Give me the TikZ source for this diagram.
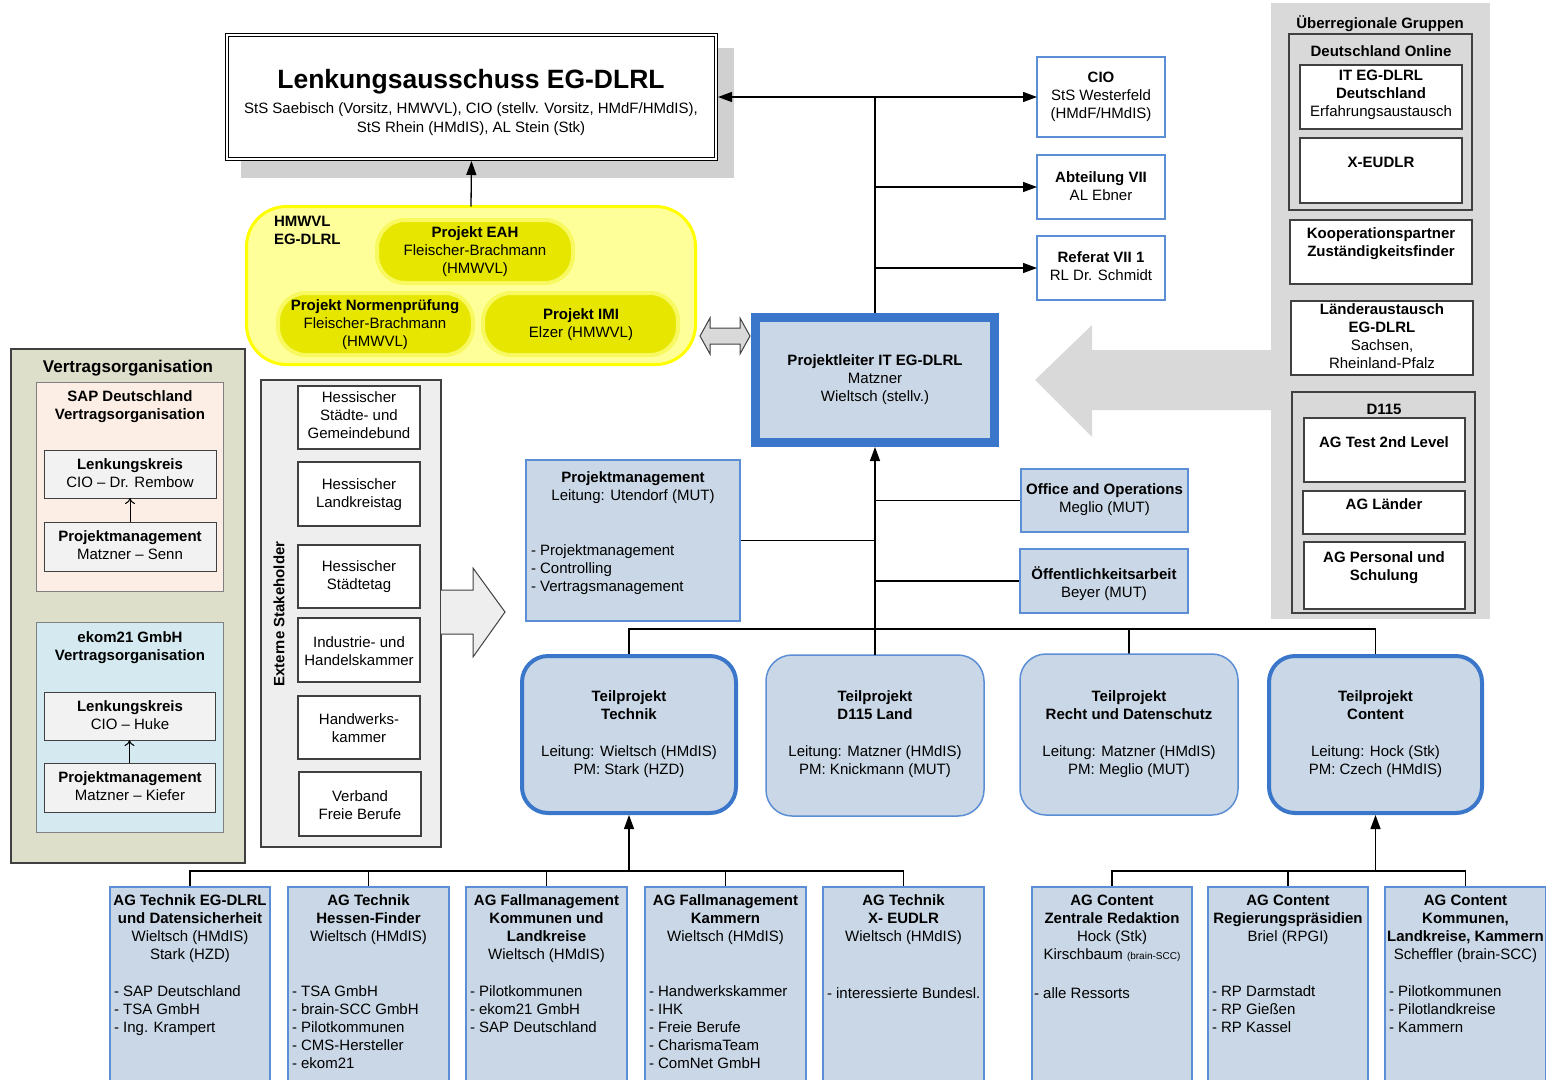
\documentclass[tikz,border=0pt]{standalone}
\usepackage{fontspec}
\setmainfont{Liberation Sans}
\usetikzlibrary{arrows.meta,fit}
\pgfdeclarelayer{bg}
\pgfsetlayers{bg,main}
\newcommand\fsn{\fontsize{15}{18}\selectfont}
\definecolor{bfill}{HTML}{C9D7E6}
\definecolor{bline}{HTML}{5B8ED4}
\definecolor{bthick}{HTML}{3A76C9}
\definecolor{ylbg}{HTML}{FFFF99}
\definecolor{ylline}{HTML}{FFFF00}
\definecolor{ylin}{HTML}{E6E600}
\definecolor{ylring}{HTML}{F8F860}
\definecolor{grp}{HTML}{D9D9D9}
\definecolor{dgray}{HTML}{404040}
\definecolor{vbg}{HTML}{DDDFCA}
\definecolor{sapbg}{HTML}{FDEEE5}
\definecolor{ekbg}{HTML}{D4EAF0}
\definecolor{inbg}{HTML}{F2F2F2}
\definecolor{exbg}{HTML}{EEEEEE}
\definecolor{shad}{HTML}{D0D0D0}
\begin{document}
\begin{tikzpicture}[x=1pt,y=-1pt,
  every node/.style={inner sep=0pt,outer sep=0pt},
  tx/.style={font=\fsn,align=center,anchor=north,yshift=11pt,execute at begin node=\strut},
  txl/.style={font=\fsn,align=left,anchor=north west,yshift=11pt,execute at begin node=\strut},
  single/.style={align=center,anchor=base},
  bluebox/.style={rectangle,draw=bline,line width=1.5pt,fill=bfill},
  whitebox/.style={rectangle,draw=bline,line width=1.5pt,fill=white},
  graybox/.style={rectangle,draw=dgray,line width=1.2pt,fill=white},
  innerbox/.style={rectangle,draw=dgray,line width=1pt,fill=inbg},
  tpthick/.style={rectangle,rounded corners=26pt,fill=bfill,draw=bthick,line width=4pt},
  tpthin/.style={rectangle,rounded corners=26pt,fill=bfill,draw=bline,line width=1.5pt},
  yin/.style={rectangle,rounded corners=28pt,fill=ylin,draw=ylring,line width=4pt},
  cn/.style={draw=black,line width=1.3pt},
  arr/.style={cn,-{Triangle[length=14pt,width=10pt]}},
  thinarr/.style={draw=black,line width=1pt,-{To[length=6pt,width=10pt]}}
]
\useasboundingbox (0,0) rectangle (1546,1079);

% ---------- Lenkungsausschuss ----------
\node[fill=shad,fit={(241,48)(734,178)}] (lashadow) {};
\node[rectangle,fill=white,draw=black,line width=1pt,double=white,double distance=2.2pt,fit={(227,35)(716,159)}] (la) {};
\node[single,font=\fontsize{26.5}{30}\selectfont\bfseries] (latitle) at (471,88) {Lenkungsausschuss EG-DLRL};
\node[tx] (lasub) at (471,114) {StS Saebisch (Vorsitz, HMWVL), CIO (stellv. Vorsitz, HMdF/HMdIS),\\[1pt]StS Rhein (HMdIS), AL Stein (Stk)};

% ---------- CIO column ----------
\node[whitebox,fit={(1037,57)(1165,137)}] (cio) {};
\node[tx] (ciot) at (1101,83) {\textbf{CIO}\\StS Westerfeld\\(HMdF/HMdIS)};
\node[whitebox,fit={(1037,155)(1165,219)}] (abt) {};
\node[tx] (abtt) at (1101,183) {\textbf{Abteilung VII}\\AL Ebner};
\node[whitebox,fit={(1037,236)(1165,300)}] (ref) {};
\node[tx] (reft) at (1101,263) {\textbf{Referat VII 1}\\RL Dr. Schmidt};

% ---------- Ueberregionale Gruppen ----------
\node[fill=grp,fit={(1271,3)(1490,619)}] (ueb) {};
\node[tx,font=\fsn\bfseries] (uebt) at (1380,27) {Überregionale Gruppen};
\node[graybox,fill=grp,fit={(1289,34)(1472,210)}] (dol) {};
\node[tx,font=\fsn\bfseries] (dolt) at (1381,55) {Deutschland Online};
\node[graybox,fit={(1300,65)(1462,129)}] (itd) {};
\node[tx] (itdt) at (1381,81) {\textbf{IT EG-DLRL}\\\textbf{Deutschland}\\Erfahrungsaustausch};
\node[graybox,fit={(1300,138)(1462,203)}] (xeu) {};
\node[tx,font=\fsn\bfseries] (xeut) at (1381,166) {X-EUDLR};
\node[graybox,fit={(1290,220)(1472,284)}] (koop) {};
\node[tx,font=\fsn\bfseries] (koopt) at (1381,239) {Kooperationspartner\\Zuständigkeitsfinder};
\node[graybox,fit={(1291,301)(1473,375)}] (laend) {};
\node[tx] (laendt) at (1382,315) {\textbf{Länderaustausch}\\\textbf{EG-DLRL}\\Sachsen,\\Rheinland-Pfalz};
\node[graybox,fill=grp,fit={(1292,392)(1475,613)}] (dd) {};
\node[tx,font=\fsn\bfseries] (ddt) at (1384,413) {D115};
\node[graybox,fit={(1304,418)(1465,482)}] (agtest) {};
\node[tx,font=\fsn\bfseries] (agtestt) at (1384,446) {AG Test 2nd Level};
\node[graybox,fit={(1303,491)(1465,534)}] (aglaender) {};
\node[tx,font=\fsn\bfseries] (aglaendert) at (1384,508) {AG Länder};
\node[graybox,fit={(1304,542)(1465,609)}] (agpers) {};
\node[tx,font=\fsn\bfseries] (agperst) at (1384,563) {AG Personal und\\Schulung};

% big grey arrow
\fill[grp] (1035,380) -- (1092,325) -- (1092,350) -- (1272,350) -- (1272,410) -- (1092,410) -- (1092,437) -- cycle;

% ---------- Yellow group ----------
\node[rectangle,draw=ylline,line width=3pt,fill=ylbg,rounded corners=40pt,fit={(246.5,206.5)(695.5,364.5)}] (yg) {};
\node[txl,font=\fsn\bfseries] (ygt) at (274,227) {HMWVL\\EG-DLRL};
\node[yin,fit={(377,220)(573,283)}] (eah) {};
\node[tx] (eaht) at (475,238) {\textbf{Projekt EAH}\\Fleischer-Brachmann\\(HMWVL)};
\node[yin,fit={(278,293)(473,355)}] (norm) {};
\node[tx] (normt) at (375,311) {\textbf{Projekt Normenprüfung}\\Fleischer-Brachmann\\(HMWVL)};
\node[yin,fit={(483,293)(678,355)}] (imi) {};
\node[tx] (imit) at (581,320) {\textbf{Projekt IMI}\\Elzer (HMWVL)};

% double block arrow
\filldraw[fill=grp,draw=dgray,line width=1pt] (700,336) -- (710,318) -- (710,328) -- (740,328) -- (740,318) -- (750,336) -- (740,354) -- (740,344) -- (710,344) -- (710,354) -- cycle;

% ---------- Projektleiter ----------
\node[rectangle,fill=bfill,draw=bthick,line width=9pt,fit={(755.5,317.5)(994.5,442.5)}] (pl) {};
\node[tx] (plt) at (875,366) {\textbf{Projektleiter IT EG-DLRL}\\Matzner\\Wieltsch (stellv.)};

\node[bluebox,fit={(526,460)(740,621)}] (pm) {};
\node[tx] (pmt) at (633,483) {\textbf{Projektmanagement}\\Leitung: Utendorf (MUT)};
\node[txl] (pml) at (531,556) {- Projektmanagement\\- Controlling\\- Vertragsmanagement};

\node[bluebox,fit={(1021,469)(1188,532)}] (oo) {};
\node[tx] (oot) at (1104.5,495) {\textbf{Office and Operations}\\Meglio (MUT)};
\node[bluebox,fit={(1020,549)(1188,613)}] (oe) {};
\node[tx] (oet) at (1104,578) {\textbf{Öffentlichkeitsarbeit}\\Beyer (MUT)};

% ---------- Teilprojekte ----------
\node[tpthick,fit={(522,656)(736,813)}] (tpT) {};
\node[tx] (tpTt) at (629,702) {\textbf{Teilprojekt}\\\textbf{Technik}\\[19pt]Leitung: Wieltsch (HMdIS)\\PM: Stark (HZD)};
\node[tpthin,fit={(766,655)(984,816)}] (tpD) {};
\node[tx] (tpDt) at (875,702) {\textbf{Teilprojekt}\\\textbf{D115 Land}\\[19pt]Leitung: Matzner (HMdIS)\\PM: Knickmann (MUT)};
\node[tpthin,fit={(1020,654)(1238,815)}] (tpR) {};
\node[tx] (tpRt) at (1129,702) {\textbf{Teilprojekt}\\\textbf{Recht und Datenschutz}\\[19pt]Leitung: Matzner (HMdIS)\\PM: Meglio (MUT)};
\node[tpthick,fit={(1269,656)(1482,813)}] (tpC) {};
\node[tx] (tpCt) at (1375.5,702) {\textbf{Teilprojekt}\\\textbf{Content}\\[19pt]Leitung: Hock (Stk)\\PM: Czech (HMdIS)};

% ---------- AG boxes ----------
\node[bluebox,fit={(110,887)(270,1083)}] (ag1) {};
\node[tx] (ag1t) at (190,906) {\textbf{AG Technik EG-DLRL}\\\textbf{und Datensicherheit}\\Wieltsch (HMdIS)\\Stark (HZD)};
\node[txl] (ag1l) at (114,997) {- SAP Deutschland\\- TSA GmbH\\- Ing. Krampert};
\node[bluebox,fit={(288,887)(449,1083)}] (ag2) {};
\node[tx] (ag2t) at (368.5,906) {\textbf{AG Technik}\\\textbf{Hessen-Finder}\\Wieltsch (HMdIS)};
\node[txl] (ag2l) at (292,997) {- TSA GmbH\\- brain-SCC GmbH\\- Pilotkommunen\\- CMS-Hersteller\\- ekom21};
\node[bluebox,fit={(466,887)(627,1083)}] (ag3) {};
\node[tx] (ag3t) at (546.5,906) {\textbf{AG Fallmanagement}\\\textbf{Kommunen und}\\\textbf{Landkreise}\\Wieltsch (HMdIS)};
\node[txl] (ag3l) at (470,997) {- Pilotkommunen\\- ekom21 GmbH\\- SAP Deutschland};
\node[bluebox,fit={(645,887)(806,1083)}] (ag4) {};
\node[tx] (ag4t) at (725.5,906) {\textbf{AG Fallmanagement}\\\textbf{Kammern}\\Wieltsch (HMdIS)};
\node[txl] (ag4l) at (649,997) {- Handwerkskammer\\- IHK\\- Freie Berufe\\- CharismaTeam\\- ComNet GmbH};
\node[bluebox,fit={(823,887)(984,1083)}] (ag5) {};
\node[tx] (ag5t) at (903.5,906) {\textbf{AG Technik}\\\textbf{X- EUDLR}\\Wieltsch (HMdIS)};
\node[txl] (ag5l) at (827,997) {- interessierte Bundesl.};
\node[bluebox,fit={(1032,887)(1192,1083)}] (ag6) {};
\node[tx] (ag6t) at (1112,906) {\textbf{AG Content}\\\textbf{Zentrale Redaktion}\\Hock (Stk)\\Kirschbaum {\fontsize{10}{12}\selectfont (brain-SCC)}};
\node[txl] (ag6l) at (1034,997) {- alle Ressorts};
\node[bluebox,fit={(1208,887)(1368,1083)}] (ag7) {};
\node[tx] (ag7t) at (1288,906) {\textbf{AG Content}\\\textbf{Regierungspräsidien}\\Briel (RPGI)};
\node[txl] (ag7l) at (1212,997) {- RP Darmstadt\\- RP Gießen\\- RP Kassel};
\node[bluebox,fit={(1385,887)(1546,1083)}] (ag8) {};
\node[tx] (ag8t) at (1465.5,906) {\textbf{AG Content}\\\textbf{Kommunen,}\\\textbf{Landkreise, Kammern}\\Scheffler (brain-SCC)};
\node[txl] (ag8l) at (1389,997) {- Pilotkommunen\\- Pilotlandkreise\\- Kammern};

% ---------- Vertragsorganisation ----------
\node[rectangle,draw=dgray,line width=1.2pt,fill=vbg,fit={(11,349)(245,863)}] (vo) {};
\node[single,font=\fontsize{17}{20}\selectfont\bfseries] (vot) at (128,372) {Vertragsorganisation};
\node[rectangle,draw=gray,line width=1pt,fill=sapbg,fit={(36,382)(223,591)}] (sap) {};
\node[tx,font=\fsn\bfseries] (sapt) at (130,402) {SAP Deutschland\\Vertragsorganisation};
\node[innerbox,fit={(44,450)(216,498)}] (saplk) {};
\node[tx] (saplkt) at (130,470) {\textbf{Lenkungskreis}\\CIO -- Dr. Rembow};
\node[innerbox,fit={(44,522)(216,571)}] (sappm) {};
\node[tx] (sappmt) at (130,542) {\textbf{Projektmanagement}\\Matzner -- Senn};
\node[rectangle,draw=gray,line width=1pt,fill=ekbg,fit={(36,622)(223,832)}] (ek) {};
\node[tx,font=\fsn\bfseries] (ekt) at (130,643) {ekom21 GmbH\\Vertragsorganisation};
\node[innerbox,fit={(44,692)(215,740)}] (eklk) {};
\node[tx] (eklkt) at (130,712) {\textbf{Lenkungskreis}\\CIO -- Huke};
\node[innerbox,fit={(44,763)(215,812)}] (ekpm) {};
\node[tx] (ekpmt) at (130,783) {\textbf{Projektmanagement}\\Matzner -- Kiefer};
\draw[thinarr] (sappm.north) -- (saplk.south);
\draw[thinarr] (ekpm.north) -- (eklk.south);

% ---------- Externe Stakeholder ----------
\node[rectangle,draw=dgray,line width=1.2pt,fill=exbg,fit={(261,380)(441,847)}] (ex) {};
\filldraw[fill=exbg,draw=dgray,line width=1pt] (441,590) -- (473,590) -- (473,568) -- (505,612) -- (473,657) -- (473,634) -- (441,634);
\node[font=\fsn\bfseries,rotate=90] (exl) at (279,614) {Externe Stakeholder};
\node[graybox,fit={(298,386)(420,449)}] (ex1) {};
\node[tx] (ex1t) at (359,403) {Hessischer\\Städte- und\\Gemeindebund};
\node[graybox,fit={(298,462)(420,526)}] (ex2) {};
\node[tx] (ex2t) at (359,490) {Hessischer\\Landkreistag};
\node[graybox,fit={(298,545)(420,608)}] (ex3) {};
\node[tx] (ex3t) at (359,572) {Hessischer\\Städtetag};
\node[graybox,fit={(298,618)(420,682)}] (ex4) {};
\node[tx] (ex4t) at (359,648) {Industrie- und\\Handelskammer};
\node[graybox,fit={(298,696)(420,759)}] (ex5) {};
\node[tx] (ex5t) at (359,725) {Handwerks-\\kammer};
\node[graybox,fit={(299,772)(421,836)}] (ex6) {};
\node[tx] (ex6t) at (360,802) {Verband\\Freie Berufe};

% ---------- connectors ----------
\coordinate (barTop) at (875,629);
\coordinate (barL) at (629,871);
\coordinate (barR) at (1375.5,871);
\begin{pgfonlayer}{bg}
\draw[cn] (pl.north) -- (pl.north |- cio.west);
\draw[cn] (pm.east) -- (pm.east -| pl.south);
\draw[cn] (oo.west) -- (oo.west -| pl.south);
\draw[cn] (oe.west) -- (oe.west -| pl.south);
\draw[cn] (tpT.north) |- (barTop) -| (tpC.north);
\draw[cn] (tpR.north) -- (tpR.north |- barTop);
\draw[cn] (ag1.north) |- (barL) -| (ag5.north);
\draw[cn] (ag2.north) -- (ag2.north |- barL);
\draw[cn] (ag3.north) -- (ag3.north |- barL);
\draw[cn] (ag4.north) -- (ag4.north |- barL);
\draw[cn] (ag6.north) |- (barR) -| (ag8.north);
\draw[cn] (ag7.north) -- (ag7.north |- barR);
\end{pgfonlayer}
\draw[arr,shorten >=2pt] (yg.north) -- (la.south);
\draw[cn,{Triangle[length=14pt,width=10pt]}-{Triangle[length=14pt,width=10pt]},shorten <=2pt] (la.east) -- (cio.west);
\draw[arr] (pl.north |- abt.west) -- (abt.west);
\draw[arr] (pl.north |- ref.west) -- (ref.west);
\draw[arr,shorten >=4.5pt] (tpD.north) -- (pl.south);
\draw[arr,shorten >=2pt] (barL) -- (tpT.south);
\draw[arr,shorten >=2pt] (barR) -- (tpC.south);
\end{tikzpicture}
\end{document}
